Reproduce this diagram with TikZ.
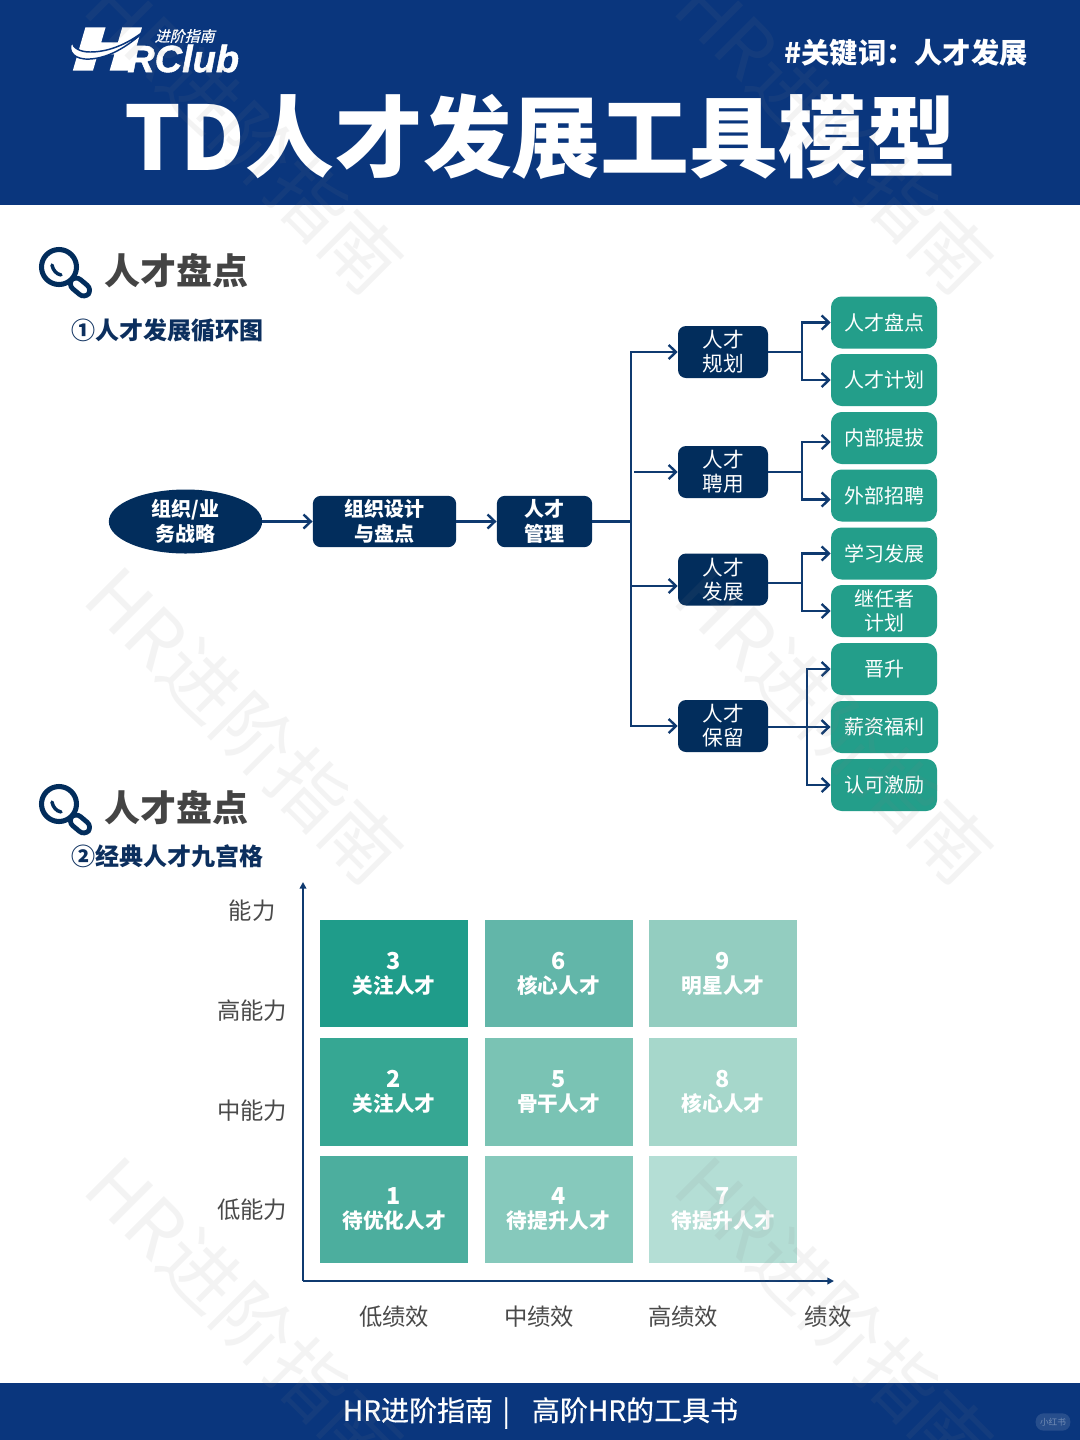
\documentclass[tikz,border=0pt]{standalone}
\usepackage{fontspec}
\setmainfont{Noto Sans CJK SC}
\newfontfamily\medf{Noto Sans CJK SC}[FakeBold=0.35]
\newfontfamily\logoH{Liberation Sans Bold Italic}[FakeBold=10]
\newfontfamily\logoR{Liberation Sans Bold Italic}[FakeBold=1.2]
\newfontfamily\cjkslant{Noto Sans CJK SC}[FakeSlant=0.25,FakeBold=0.8]
\newcommand{\dgt}[1]{{\fontsize{17.5}{18}\selectfont #1}}
\usetikzlibrary{arrows.meta,shapes.geometric}
\definecolor{hdr}{HTML}{0A367D}
\definecolor{navy}{HTML}{022D5C}
\definecolor{linec}{HTML}{0F3A70}
\definecolor{teal}{HTML}{239E8A}
\definecolor{headc}{HTML}{444444}
\definecolor{subc}{HTML}{0C2F5E}
\definecolor{axisc}{HTML}{4A4A4A}
\definecolor{ca}{HTML}{1F9C8A}\definecolor{cb}{HTML}{62B6A9}\definecolor{cc}{HTML}{93CDC0}
\definecolor{cd}{HTML}{36A793}\definecolor{ce}{HTML}{7AC3B4}\definecolor{cf}{HTML}{A6D7CB}
\definecolor{cg}{HTML}{4CAE9E}\definecolor{ch}{HTML}{86C9BC}\definecolor{ci}{HTML}{B4DED5}
\tikzset{
  dark/.style={fill=navy,text=white,rounded corners=6pt,inner sep=0pt,align=center},
  level/.style={dark,minimum width=67.5pt,minimum height=39pt,font=\fontsize{15.5}{18}\selectfont},
  proc/.style={dark,minimum height=38.5pt,font=\fontsize{15}{18.5}\selectfont\bfseries},
  leaf/.style={fill=teal,text=white,rounded corners=8pt,inner sep=0pt,align=center,minimum width=79.5pt,minimum height=39pt,font=\fontsize{15}{18}\selectfont},
  cell/.style={text=white,inner sep=0pt,align=center,minimum width=111pt,minimum height=80.5pt,font=\fontsize{15.5}{18}\selectfont\bfseries},
  axlabel/.style={text=axisc,inner sep=0pt,font=\fontsize{17.5}{20}\selectfont},
  conn/.style={draw=linec,line width=2.1pt,line join=miter},
  arr/.style={conn,-{Straight Barb[length=5.5pt,width=10.5pt,line width=1.8pt]}},
  axis/.style={draw=linec,line width=1.6pt,-{Triangle[length=5pt,width=5pt]}},
  head/.style={anchor=west,inner sep=0pt,text=headc,font=\fontsize{27}{30}\selectfont\bfseries},
  subhead/.style={anchor=west,inner sep=0pt,text=subc,font=\fontsize{18}{20}\selectfont\bfseries},
  wm/.style={rotate=-45,text=gray,text opacity=0.09,inner sep=0pt,font=\fontsize{57}{60}\selectfont},
  icon/.pic={
    \draw[navy,line width=3.8pt] (59,267) circle (17.5);
    \draw[navy,line width=2.6pt,line cap=round] (52,265) .. controls (53,270) and (56,274) .. (61,275);
    \draw[navy,line width=3.6pt,rounded corners=5pt,rotate around={-40:(80,287)}] (69,281) rectangle (91,293);
  }
}
\begin{document}
\begin{tikzpicture}[x=0.75pt,y=-0.75pt]
\useasboundingbox (0,0) rectangle (1080,1440);
\clip (0,0) rectangle (1080,1440);
\fill[white] (0,0) rectangle (1080,1440);
% header
\fill[hdr] (0,0) rectangle (1080,205);
\node[inner sep=0pt,text=white,font=\fontsize{66.6}{70}\selectfont\bfseries] (title) at (540,137) {TD人才发展工具模型};
\node[anchor=east,inner sep=0pt,text=white,font=\fontsize{21.2}{24}\selectfont\bfseries] (kw) at (1028,53) {\#关键词：人才发展};
% logo
\node[inner sep=0pt,text=white,xscale=1.5,font=\logoH\fontsize{41}{46}\selectfont] (logoh) at (106,49) {H};
\path[fill=white,draw=hdr,line width=1.1pt] (148,28) .. controls (125,47) and (105,52) .. (90,52) .. controls (80,52) and (73,48) .. (72,42) .. controls (67,52) and (75,60) .. (90,59) .. controls (110,58) and (130,45) .. (148,28) -- cycle;
\node[anchor=west,inner sep=0pt,text=white,font=\logoR\fontsize{28.5}{30}\selectfont] (logor) at (127,58.5) {RClub};
\node[anchor=west,inner sep=0pt,text=white,font=\cjkslant\fontsize{11.2}{12}\selectfont] (logoc) at (154.5,36) {进阶指南};
% sections
\pic at (0,0) {icon};
\node[head] (h1) at (104,271) {人才盘点};
\node[subhead] (s1) at (71,330) {①人才发展循环图};
\begin{scope}[yshift=-402.75pt]
\pic at (0,0) {icon};
\end{scope}
\node[head] (h2) at (104,808) {人才盘点};
\node[subhead] (s2) at (71,856) {②经典人才九宫格};
% flow nodes
\node[ellipse,fill=navy,text=white,inner sep=0pt,minimum width=115pt,minimum height=48pt,align=center,font=\fontsize{15}{18.5}\selectfont\bfseries] (org) at (185.5,521.5) {组织/业\\务战略};
\node[proc,minimum width=107.5pt] (design) at (384.5,521.5) {组织设计\\与盘点};
\node[proc,minimum width=71.5pt] (mgmt) at (544.5,521.5) {人才\\管理};
\coordinate (trunk) at (631,521.5);
\coordinate (tdev) at (631,586);
\node[level] (plan) at (723,352) {人才\\规划};
\node[level] (hire) at (723,472) {人才\\聘用};
\node[level] (dev) at (723,579.5) {人才\\发展};
\node[level] (keep) at (723,726) {人才\\保留};
\node[leaf] (a1) at (884,322.5) {人才盘点};
\node[leaf] (a2) at (884,380) {人才计划};
\node[leaf] (b1) at (884,438) {内部提拔};
\node[leaf] (b2) at (884,495.5) {外部招聘};
\node[leaf] (c1) at (884,553.5) {学习发展};
\node[leaf] (c2) at (884,611) {继任者\\计划};
\node[leaf] (d1) at (884,669) {晋升};
\node[leaf,minimum width=80.5pt] (d2) at (884.5,727) {薪资福利};
\node[leaf] (d3) at (884,785) {认可激励};
% flow connectors
\draw[arr] (org) -- (design);
\draw[arr] (design) -- (mgmt);
\draw[conn] (mgmt) -- (trunk);
\draw[arr] (trunk) |- (plan);
\draw[arr] (trunk) |- (keep);
\draw[arr] (trunk |- hire) ++(3,0) -- (hire);
\draw[arr] (tdev) -- (tdev -| dev.west);
\coordinate (ja) at (802,352);
\coordinate (jb) at (802,472);
\coordinate (jc) at (802,583);
\coordinate (jd) at (807,727);
\draw[conn] (plan) -- (ja);
\draw[arr] (ja) |- (a1);
\draw[arr] (ja) |- (a2);
\draw[conn] (hire) -- (jb);
\draw[arr] (jb) |- ([yshift=-3pt]b1.west);
\draw[arr] (jb) |- ([yshift=-3pt]b2.west);
\draw[conn] (jc -| dev.east) -- (jc);
\draw[arr] (jc) |- (c1);
\draw[arr] (jc) |- (c2);
\draw[arr] (jd -| keep.east) -- (d2);
\draw[arr] (jd) |- (d1);
\draw[arr] (jd) |- (d3);
% grid
\node[cell,fill=ca] (g3) at (394,973.5) {\dgt{3}\\关注人才};
\node[cell,fill=cb] (g6) at (558.5,973.5) {\dgt{6}\\核心人才};
\node[cell,fill=cc] (g9) at (723,973.5) {\dgt{9}\\明星人才};
\node[cell,fill=cd] (g2) at (394,1092) {\dgt{2}\\关注人才};
\node[cell,fill=ce] (g5) at (558.5,1092) {\dgt{5}\\骨干人才};
\node[cell,fill=cf] (g8) at (723,1092) {\dgt{8}\\核心人才};
\node[cell,fill=cg] (g1) at (394,1209.5) {\dgt{1}\\待优化人才};
\node[cell,fill=ch] (g4) at (558.5,1209.5) {\dgt{4}\\待提升人才};
\node[cell,fill=ci] (g7) at (723,1209.5) {\dgt{7}\\待提升人才};
% axes
\coordinate (origin) at (303,1281);
\coordinate (ytip) at (303,882);
\coordinate (xtip) at (834,1281);
\draw[axis] (origin) -- (ytip);
\draw[axis] (origin) -- (xtip);
\node[axlabel] (y0) at (252,911) {能力};
\node[axlabel] (y1) at (252,1011) {高能力};
\node[axlabel] (y2) at (252,1110.5) {中能力};
\node[axlabel] (y3) at (252,1210) {低能力};
\node[axlabel] (x1) at (394,1317) {低绩效};
\node[axlabel] (x2) at (539,1317) {中绩效};
\node[axlabel] (x3) at (683,1317) {高绩效};
\node[axlabel] (x4) at (828,1317) {绩效};
% footer
\fill[hdr] (0,1383) rectangle (1080,1440);
\node[inner sep=0pt,text=white,font=\medf\fontsize{21}{24}\selectfont] (foot) at (540.5,1413) {HR进阶指南\hspace{7pt}|\hspace{16.5pt}高阶HR的工具书};
\node[rounded corners=6pt,fill=white,fill opacity=0.12,text opacity=0.35,text=white,inner sep=0pt,minimum width=26pt,minimum height=13pt,font=\fontsize{6.5}{8}\selectfont] (badge) at (1053,1422) {小红书};
% watermarks
\foreach \wx/\wy/\wn in {245/135/wa,835/135/wb,245/725/wc,835/725/wd,245/1315/we,835/1315/wf}{
  \node[wm] (\wn) at (\wx,\wy) {HR进阶指南};
}
\end{tikzpicture}
\end{document}
